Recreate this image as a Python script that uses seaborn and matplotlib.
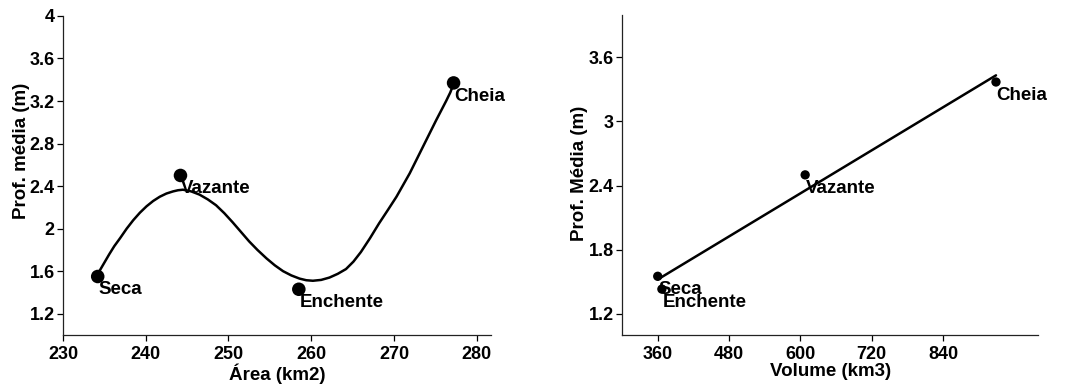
import matplotlib
matplotlib.use("Agg")
import matplotlib.pyplot as plt
import matplotlib.ticker as mticker
import pandas as pd
import seaborn as sns

# data
periods = ["Seca", "Vazante", "Enchente", "Cheia"]
area_km2 = [234.2, 244.2, 258.5, 277.2]
depth_m = [1.55, 2.50, 1.43, 3.37]
volume_km3 = [360, 608, 367, 929]

# smooth fit drawn in the area panel
fit_area = [234.4, 235.0, 235.6, 236.2, 236.9, 237.7, 238.5, 239.3, 240.1,
            240.9, 241.7, 242.5, 243.3, 243.9, 244.5, 245.5, 246.5, 247.5,
            248.5, 249.5, 250.5, 251.5, 252.5, 253.5, 254.6, 255.6, 256.6,
            257.6, 258.6, 259.4, 260.2, 261.2, 262.2, 263.2, 264.2, 265.1,
            266.0, 267.1, 268.2, 269.3, 270.3, 271.1, 271.9, 272.7, 273.5,
            274.3, 275.1, 275.7, 276.3, 276.8, 277.2]
fit_depth = [1.60, 1.68, 1.76, 1.835, 1.91, 2.00, 2.08, 2.15, 2.21,
             2.26, 2.30, 2.33, 2.35, 2.361, 2.366, 2.35, 2.32, 2.275,
             2.22, 2.145, 2.06, 1.97, 1.88, 1.80, 1.72, 1.655, 1.60,
             1.56, 1.53, 1.515, 1.51, 1.518, 1.54, 1.575, 1.62, 1.69,
             1.78, 1.91, 2.05, 2.18, 2.30, 2.41, 2.52, 2.645, 2.77,
             2.895, 3.02, 3.11, 3.20, 3.28, 3.36]

y_ticks_left = [1.2, 1.6, 2.0, 2.4, 2.8, 3.2, 3.6, 4.0]
y_ticks_right = [1.2, 1.8, 2.4, 3.0, 3.6]
x_ticks_left = [230, 240, 250, 260, 270, 280]
x_ticks_right = [360, 480, 600, 720, 840]

df = pd.DataFrame({"periodo": periods, "area": area_km2,
                   "volume": volume_km3, "prof": depth_m})
fit = pd.DataFrame({"area": fit_area, "prof": fit_depth})

sns.set_theme(style="ticks")
plt.rcParams["font.family"] = ["Liberation Sans", "DejaVu Sans"]
plt.rcParams["font.weight"] = "bold"
plt.rcParams["axes.labelweight"] = "bold"
plt.rcParams["text.color"] = "black"
plt.rcParams["axes.labelcolor"] = "black"
plt.rcParams["xtick.color"] = "black"
plt.rcParams["ytick.color"] = "black"

fig = plt.figure(figsize=(10.67, 3.92), dpi=100)
ax1 = fig.add_axes([0.059, 0.1454, 0.401, 0.814])
ax2 = fig.add_axes([0.583, 0.1454, 0.390, 0.817])

# left: area vs depth
sns.lineplot(data=fit, x="area", y="prof", ax=ax1, sort=False,
             color="black", linewidth=1.8)
sns.scatterplot(data=df, x="area", y="prof", ax=ax1, color="black",
                s=95, edgecolor="none", zorder=3)
for _, r in df.iterrows():
    ax1.annotate(r["periodo"], (r["area"], r["prof"]), xytext=(0.5, -3.5),
                 textcoords="offset points", ha="left", va="top",
                 fontsize=13.5, fontweight="bold", color="black")
ax1.set_xlim(230, 281.7)
ax1.set_ylim(1.0, 4.0)
ax1.set_xticks(x_ticks_left)
ax1.set_yticks(y_ticks_left)
ax1.set_xlabel("Área (km2)", fontsize=13.5)
ax1.set_ylabel("Prof. média (m)", fontsize=13.5)
ax1.yaxis.set_label_coords(-0.078, 0.577)

# right: volume vs depth with linear fit
sns.regplot(data=df, x="volume", y="prof", ax=ax2, ci=None,
            scatter_kws={"color": "black", "s": 45, "edgecolor": "none", "alpha": 1},
            line_kws={"color": "black", "linewidth": 1.8})
for _, r in df.iterrows():
    ax2.annotate(r["periodo"], (r["volume"], r["prof"]), xytext=(0.5, -3.5),
                 textcoords="offset points", ha="left", va="top",
                 fontsize=13.5, fontweight="bold", color="black")
ax2.set_xlim(300, 1000)
ax2.set_ylim(1.0, 4.0)
ax2.set_xticks(x_ticks_right)
ax2.set_yticks(y_ticks_right)
ax2.set_xlabel("Volume (km3)", fontsize=13.5)
ax2.set_ylabel("Prof. Média (m)", fontsize=13.5)
ax2.yaxis.set_label_coords(-0.082, 0.506)

for ax in (ax1, ax2):
    sns.despine(ax=ax)
    ax.yaxis.set_major_formatter(mticker.FuncFormatter(lambda v, p: f"{v:g}"))
    ax.tick_params(axis="both", labelsize=13, length=4, width=0.9,
                   pad=2, color="black", labelcolor="black")
    ax.tick_params(axis="x", pad=4)
    for lbl in ax.get_xticklabels() + ax.get_yticklabels():
        lbl.set_fontweight("bold")
    for sp in ("left", "bottom"):
        ax.spines[sp].set_linewidth(0.9)
        ax.spines[sp].set_color("#222222")
    ax.xaxis.labelpad = 0

fig.savefig("out.png", dpi=100)
plt.close(fig)
